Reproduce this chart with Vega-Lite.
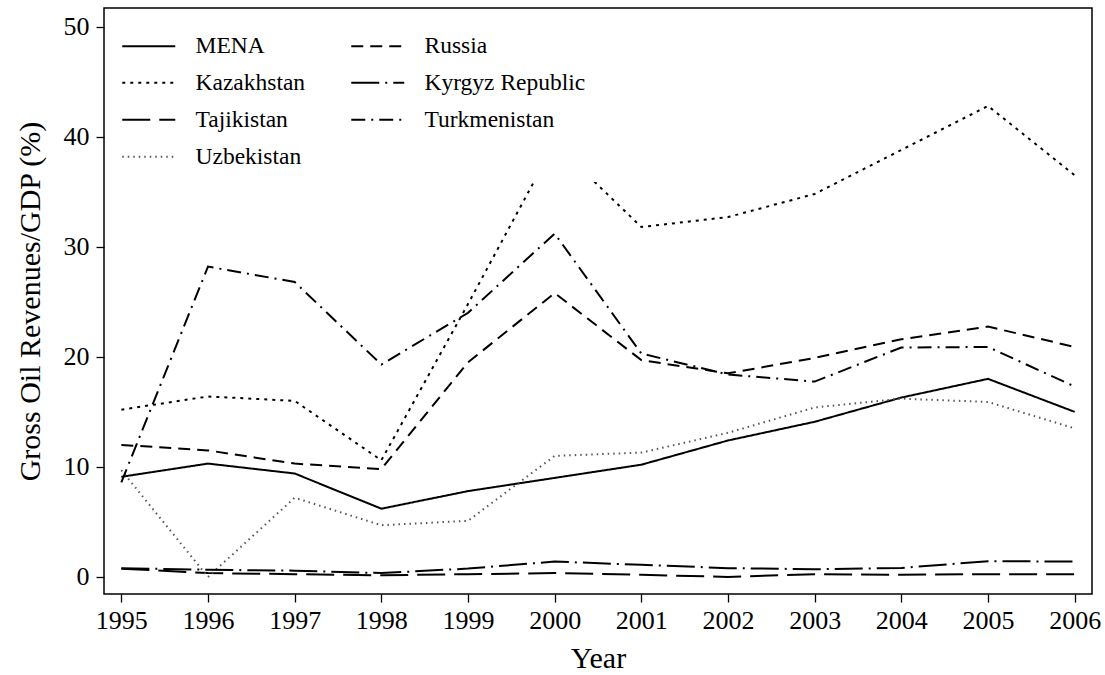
{
  "$schema": "https://vega.github.io/schema/vega-lite/v6.json",
  "width": 988,
  "height": 586,
  "autosize": "none",
  "padding": {"left": 104, "top": 8, "right": 13, "bottom": 81},
  "background": "white",
  "config": {
    "view": {"stroke": "black", "strokeWidth": 1.5},
    "font": "Liberation Serif",
    "axis": {
      "labelFont": "Liberation Serif",
      "titleFont": "Liberation Serif",
      "labelColor": "black",
      "titleColor": "black",
      "tickColor": "black",
      "domainColor": "black",
      "tickWidth": 1.3,
      "grid": false,
      "labelFontSize": 26,
      "titleFontSize": 30,
      "titleFontWeight": "normal",
      "tickSize": 8,
      "labelPadding": 5
    },
    "legend": {
      "labelFont": "Liberation Serif",
      "labelFontSize": 23.5,
      "labelColor": "black",
      "labelLimit": 400
    }
  },
  "data": {
    "values": [
      {"country": "MENA", "year": 1995, "value": 9.1},
      {"country": "MENA", "year": 1996, "value": 10.3},
      {"country": "MENA", "year": 1997, "value": 9.4},
      {"country": "MENA", "year": 1998, "value": 6.2},
      {"country": "MENA", "year": 1999, "value": 7.8},
      {"country": "MENA", "year": 2000, "value": 9.0},
      {"country": "MENA", "year": 2001, "value": 10.2},
      {"country": "MENA", "year": 2002, "value": 12.4},
      {"country": "MENA", "year": 2003, "value": 14.1},
      {"country": "MENA", "year": 2004, "value": 16.3},
      {"country": "MENA", "year": 2005, "value": 18.0},
      {"country": "MENA", "year": 2006, "value": 15.0},
      {"country": "Kazakhstan", "year": 1995, "value": 15.2},
      {"country": "Kazakhstan", "year": 1996, "value": 16.4},
      {"country": "Kazakhstan", "year": 1997, "value": 16.0},
      {"country": "Kazakhstan", "year": 1998, "value": 10.6},
      {"country": "Kazakhstan", "year": 1999, "value": 24.8},
      {"country": "Kazakhstan", "year": 2000, "value": 39.4},
      {"country": "Kazakhstan", "year": 2001, "value": 31.8},
      {"country": "Kazakhstan", "year": 2002, "value": 32.7},
      {"country": "Kazakhstan", "year": 2003, "value": 34.8},
      {"country": "Kazakhstan", "year": 2004, "value": 38.8},
      {"country": "Kazakhstan", "year": 2005, "value": 42.8},
      {"country": "Kazakhstan", "year": 2006, "value": 36.5},
      {"country": "Tajikistan", "year": 1995, "value": 0.75},
      {"country": "Tajikistan", "year": 1996, "value": 0.35},
      {"country": "Tajikistan", "year": 1997, "value": 0.25},
      {"country": "Tajikistan", "year": 1998, "value": 0.15},
      {"country": "Tajikistan", "year": 1999, "value": 0.25},
      {"country": "Tajikistan", "year": 2000, "value": 0.35},
      {"country": "Tajikistan", "year": 2001, "value": 0.2},
      {"country": "Tajikistan", "year": 2002, "value": 0.0},
      {"country": "Tajikistan", "year": 2003, "value": 0.25},
      {"country": "Tajikistan", "year": 2004, "value": 0.2},
      {"country": "Tajikistan", "year": 2005, "value": 0.25},
      {"country": "Tajikistan", "year": 2006, "value": 0.25},
      {"country": "Uzbekistan", "year": 1995, "value": 9.7},
      {"country": "Uzbekistan", "year": 1996, "value": 0.0},
      {"country": "Uzbekistan", "year": 1997, "value": 7.2},
      {"country": "Uzbekistan", "year": 1998, "value": 4.7},
      {"country": "Uzbekistan", "year": 1999, "value": 5.1},
      {"country": "Uzbekistan", "year": 2000, "value": 11.0},
      {"country": "Uzbekistan", "year": 2001, "value": 11.3},
      {"country": "Uzbekistan", "year": 2002, "value": 13.1},
      {"country": "Uzbekistan", "year": 2003, "value": 15.4},
      {"country": "Uzbekistan", "year": 2004, "value": 16.2},
      {"country": "Uzbekistan", "year": 2005, "value": 15.9},
      {"country": "Uzbekistan", "year": 2006, "value": 13.5},
      {"country": "Russia", "year": 1995, "value": 12.0},
      {"country": "Russia", "year": 1996, "value": 11.5},
      {"country": "Russia", "year": 1997, "value": 10.3},
      {"country": "Russia", "year": 1998, "value": 9.8},
      {"country": "Russia", "year": 1999, "value": 19.5},
      {"country": "Russia", "year": 2000, "value": 25.8},
      {"country": "Russia", "year": 2001, "value": 19.7},
      {"country": "Russia", "year": 2002, "value": 18.5},
      {"country": "Russia", "year": 2003, "value": 19.9},
      {"country": "Russia", "year": 2004, "value": 21.6},
      {"country": "Russia", "year": 2005, "value": 22.75},
      {"country": "Russia", "year": 2006, "value": 20.9},
      {"country": "Kyrgyz Republic", "year": 1995, "value": 0.8},
      {"country": "Kyrgyz Republic", "year": 1996, "value": 0.65},
      {"country": "Kyrgyz Republic", "year": 1997, "value": 0.57},
      {"country": "Kyrgyz Republic", "year": 1998, "value": 0.35},
      {"country": "Kyrgyz Republic", "year": 1999, "value": 0.76},
      {"country": "Kyrgyz Republic", "year": 2000, "value": 1.4},
      {"country": "Kyrgyz Republic", "year": 2001, "value": 1.1},
      {"country": "Kyrgyz Republic", "year": 2002, "value": 0.8},
      {"country": "Kyrgyz Republic", "year": 2003, "value": 0.7},
      {"country": "Kyrgyz Republic", "year": 2004, "value": 0.82},
      {"country": "Kyrgyz Republic", "year": 2005, "value": 1.43},
      {"country": "Kyrgyz Republic", "year": 2006, "value": 1.4},
      {"country": "Turkmenistan", "year": 1995, "value": 8.6},
      {"country": "Turkmenistan", "year": 1996, "value": 28.2},
      {"country": "Turkmenistan", "year": 1997, "value": 26.8},
      {"country": "Turkmenistan", "year": 1998, "value": 19.3},
      {"country": "Turkmenistan", "year": 1999, "value": 24.0},
      {"country": "Turkmenistan", "year": 2000, "value": 31.2},
      {"country": "Turkmenistan", "year": 2001, "value": 20.3},
      {"country": "Turkmenistan", "year": 2002, "value": 18.4},
      {"country": "Turkmenistan", "year": 2003, "value": 17.75},
      {"country": "Turkmenistan", "year": 2004, "value": 20.85},
      {"country": "Turkmenistan", "year": 2005, "value": 20.9},
      {"country": "Turkmenistan", "year": 2006, "value": 17.3}
    ]
  },
  "mark": {"type": "line", "strokeWidth": 2, "clip": true},
  "encoding": {
    "x": {
      "field": "year",
      "type": "quantitative",
      "scale": {"domain": [1994.8, 2006.2], "nice": false, "zero": false},
      "axis": {
        "values": [1995, 1996, 1997, 1998, 1999, 2000, 2001, 2002, 2003, 2004, 2005, 2006],
        "format": "d",
        "title": "Year",
        "domain": false,
        "titlePadding": 10
      }
    },
    "y": {
      "field": "value",
      "type": "quantitative",
      "scale": {"domain": [-1.55, 51.7], "nice": false, "zero": false},
      "axis": {
        "values": [0, 10, 20, 30, 40, 50],
        "title": "Gross Oil Revenues/GDP (%)",
        "domain": false,
        "labelPadding": 7,
        "titlePadding": 18
      }
    },
    "strokeDash": {
      "field": "country",
      "type": "nominal",
      "scale": {
        "domain": ["MENA", "Kazakhstan", "Tajikistan", "Uzbekistan", "Russia", "Kyrgyz Republic", "Turkmenistan"],
        "range": [[1, 0], [3, 5], [28, 9], [1.5, 4], [12, 7], [28, 6, 2, 6], [14, 6, 2, 6]]
      },
      "legend": {
        "title": null,
        "orient": "none",
        "legendX": 20,
        "legendY": 13,
        "columns": 2,
        "symbolType": "M-2.65,0H2.65",
        "symbolSize": 400,
        "symbolStrokeWidth": 2,
        "fillColor": "white",
        "padding": 13,
        "columnPadding": 41,
        "labelOffset": 35,
        "rowPadding": 12
      }
    },
    "color": {
      "field": "country",
      "type": "nominal",
      "scale": {
        "domain": ["MENA", "Kazakhstan", "Tajikistan", "Uzbekistan", "Russia", "Kyrgyz Republic", "Turkmenistan"],
        "range": ["black", "black", "black", "#555555", "black", "black", "black"]
      },
      "legend": {
        "title": null,
        "orient": "none",
        "legendX": 20,
        "legendY": 13,
        "columns": 2,
        "symbolType": "M-2.65,0H2.65",
        "symbolSize": 400,
        "symbolStrokeWidth": 2,
        "fillColor": "white",
        "padding": 13,
        "columnPadding": 41,
        "labelOffset": 35,
        "rowPadding": 12
      }
    }
  }
}
